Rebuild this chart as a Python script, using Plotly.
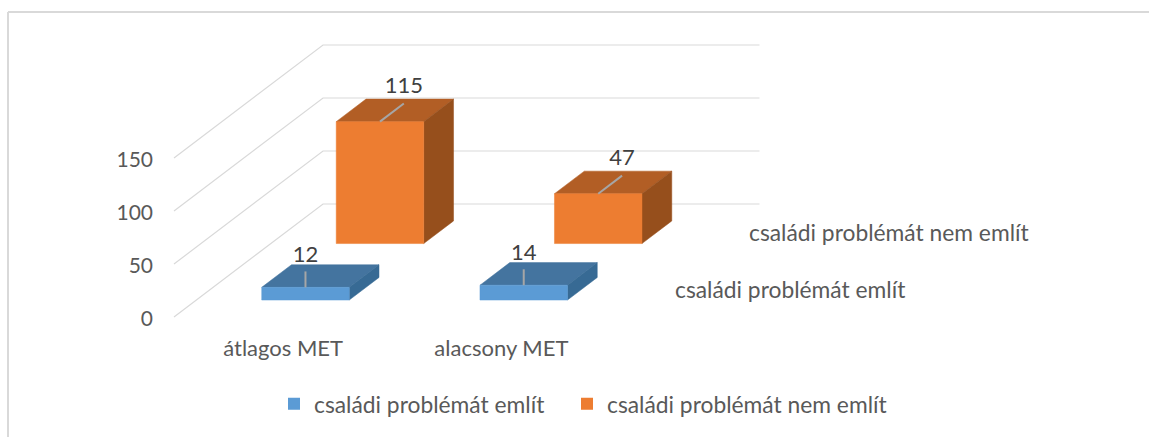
import plotly.graph_objects as go

# ---- data ----
CATEGORIES = ["átlagos MET", "alacsony MET"]
SERIES_NAMES = ["családi problémát említ", "családi problémát nem említ"]
VALUES_EMLIT = [12, 14]
VALUES_NEM_EMLIT = [115, 47]
Y_TICKS = [0, 50, 100, 150]

# ---- oblique 3D projection (style) ----
W, H = 1149, 437
LEFT = 160            # plot-area left edge, px
ZERO_PX = 317         # y pixel of value 0
PX_PER_UNIT = 1.06
X0 = 174              # front-left corner of the floor
CAT_W = 218.25
BAR_W = 87.5
DX = 149              # depth vector in px
DY = 113 / PX_PER_UNIT  # depth vector in value units
ROWS = [(0.15, 0.35), (0.65, 0.85)]
FONT = "Lato"
TXT = "#595959"
GRID = "#D9D9D9"
COLORS = [
    dict(front="#5B9BD5", top="#44749F", side="#376A94"),
    dict(front="#ED7D31", top="#B25E25", side="#964F1C"),
]
LEGEND_TEXT_X = [313, 606]


def proj(u, d, v):
    return X0 + u + DX * d, v + d * DY


def poly(pts, color):
    xy = [proj(*p) for p in pts]
    xs = [a for a, _ in xy] + [xy[0][0]]
    ys = [b for _, b in xy] + [xy[0][1]]
    return go.Scatter(x=xs, y=ys, mode="lines", fill="toself", fillcolor=color,
                      line=dict(color=color, width=0.5), hoverinfo="skip", showlegend=False)


fig = go.Figure()

# walls: grid lines on the side wall and the back wall
U_END = CAT_W * len(CATEGORIES)
for t in Y_TICKS:
    pts = [proj(0, 0, t), proj(0, 1, t), proj(U_END, 1, t)]
    fig.add_trace(go.Scatter(x=[p[0] for p in pts], y=[p[1] for p in pts], mode="lines",
                             line=dict(color=GRID, width=1.2), hoverinfo="skip", showlegend=False))

# bars, back row first
ALL_VALUES = [VALUES_EMLIT, VALUES_NEM_EMLIT]
LEADER_DEPTH = [0.0, 0.16]
LEADER_RISE = [15, 0]
LABEL_RISE = [29, 15]
for s in (1, 0):
    d0, d1 = ROWS[s]
    c = COLORS[s]
    for i, v in enumerate(ALL_VALUES[s]):
        u0 = CAT_W * (i + 0.5) - BAR_W / 2
        u1 = u0 + BAR_W
        fig.add_trace(poly([(u0, d0, v), (u1, d0, v), (u1, d1, v), (u0, d1, v)], c["top"]))
        fig.add_trace(poly([(u1, d0, 0), (u1, d1, 0), (u1, d1, v), (u1, d0, v)], c["side"]))
        fig.add_trace(poly([(u0, d0, 0), (u1, d0, 0), (u1, d0, v), (u0, d0, v)], c["front"]))
        um = (u0 + u1) / 2
        a = proj(um, d0, v)
        b = proj(um, d0 + LEADER_DEPTH[s], v + LEADER_RISE[s])
        fig.add_trace(go.Scatter(x=[a[0], b[0]], y=[a[1], b[1]], mode="lines",
                                 line=dict(color="#A6A6A6", width=2),
                                 hoverinfo="skip", showlegend=False))
        lb = proj(um, d0 + LEADER_DEPTH[s], v + LABEL_RISE[s])
        fig.add_trace(go.Scatter(x=[lb[0]], y=[lb[1]], mode="text", text=[str(v)],
                                 textposition="middle center", cliponaxis=False,
                                 textfont=dict(family=FONT, size=22, color="#404040"),
                                 hoverinfo="skip", showlegend=False))

# depth-axis labels
for s, name in enumerate(SERIES_NAMES):
    d = sum(ROWS[s]) / 2
    x, y = proj(U_END, d, 0)
    fig.add_annotation(x=x, y=y, xref="x", yref="y", text=name, showarrow=False,
                       xanchor="left", yanchor="middle", xshift=25, yshift=0,
                       font=dict(family=FONT, size=22.8, color=TXT))

# legend entries: one small legend per series so each can hold its full text
for s, name in enumerate(SERIES_NAMES):
    fig.add_trace(go.Scatter(x=[None], y=[None], mode="markers", name=name,
                             legend="legend" if s == 0 else "legend2",
                             marker=dict(symbol="square", size=12, color=COLORS[s]["front"])))


def legend_at(text_x):
    return dict(x=(text_x - 39 - LEFT) / (W - LEFT), y=1 - 404 / H, xanchor="left", yanchor="middle",
                font=dict(family=FONT, size=22.8, color=TXT), bgcolor="rgba(0,0,0,0)")


fig.update_layout(
    width=W, height=H, autosize=False,
    margin=dict(l=LEFT, r=0, t=0, b=0),
    paper_bgcolor="white", plot_bgcolor="white",
    font=dict(family=FONT, size=22, color=TXT),
    xaxis=dict(range=[LEFT, W], showgrid=False, zeroline=False, showline=False, ticks="",
               tickmode="array",
               tickvals=[proj(CAT_W * (i + 0.5), 0, 0)[0] for i in range(len(CATEGORIES))],
               ticktext=CATEGORIES, anchor="free", position=(H - 333) / H,
               tickfont=dict(family=FONT, size=22, color=TXT), fixedrange=True),
    yaxis=dict(range=[(ZERO_PX - H) / PX_PER_UNIT, ZERO_PX / PX_PER_UNIT], showgrid=False,
               zeroline=False, showline=False, ticks="", tickmode="array",
               tickvals=Y_TICKS, ticktext=[str(t) for t in Y_TICKS],
               ticklabelstandoff=6, ticklabelshift=2,
               tickfont=dict(family=FONT, size=21, color=TXT), fixedrange=True),
    legend=legend_at(LEGEND_TEXT_X[0]),
    legend2=legend_at(LEGEND_TEXT_X[1]),
    shapes=[
        dict(type="line", xref="paper", yref="paper", x0=(8 - LEFT) / (W - LEFT), x1=1,
             y0=1 - 12 / H, y1=1 - 12 / H, line=dict(color=GRID, width=2)),
        dict(type="line", xref="paper", yref="paper", x0=(8 - LEFT) / (W - LEFT),
             x1=(8 - LEFT) / (W - LEFT), y0=1 - 12 / H, y1=0, line=dict(color=GRID, width=2)),
    ],
)

fig.write_html("out.html", config={"displayModeBar": False},
               post_script="document.body.style.margin='0';")
